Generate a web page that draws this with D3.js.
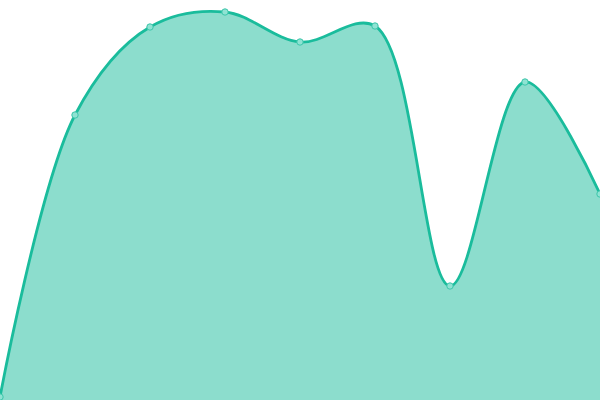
<!DOCTYPE html>
<html>
<head>
<meta charset="utf-8">
<script src="https://cdn.jsdelivr.net/npm/d3@7"></script>
<style>
  html, body { margin: 0; padding: 0; background: #fff; }
  svg { display: block; }
</style>
</head>
<body>
<svg id="chart"></svg>
<script>
// point index along x, and value
const categories = [0, 1, 2, 3, 4, 5, 6, 7, 8];
const values = [3, 285, 373, 388, 358, 374, 114, 318, 206];

const width = 600, height = 400;

const svg = d3.select('#chart')
  .attr('width', width)
  .attr('height', height);

const xScale = d3.scaleLinear()
  .domain([0, 8])
  .range([0, width]);

const yScale = d3.scaleLinear()
  .domain([0, 400])
  .range([height, 0]);

const data = categories.map((c, i) => ({ x: c, y: values[i] }));

const area = d3.area()
  .x(d => xScale(d.x))
  .y0(yScale(0))
  .y1(d => yScale(d.y))
  .curve(d3.curveCatmullRom);

const line = d3.line()
  .x(d => xScale(d.x))
  .y(d => yScale(d.y))
  .curve(d3.curveCatmullRom);

svg.append('path')
  .datum(data)
  .attr('d', area)
  .attr('fill', '#1abc9c')
  .attr('fill-opacity', 0.5);

svg.append('path')
  .datum(data)
  .attr('d', line)
  .attr('fill', 'none')
  .attr('stroke', '#1abc9c')
  .attr('stroke-width', 2.8);

// small point markers on top of the line
svg.selectAll('.dot')
  .data(data)
  .join('circle')
  .attr('class', 'dot')
  .attr('cx', d => xScale(d.x))
  .attr('cy', d => yScale(d.y))
  .attr('r', 3.2)
  .attr('fill', '#8fe3d3')
  .attr('stroke', '#3cc6aa')
  .attr('stroke-width', 1);
</script>
</body>
</html>
